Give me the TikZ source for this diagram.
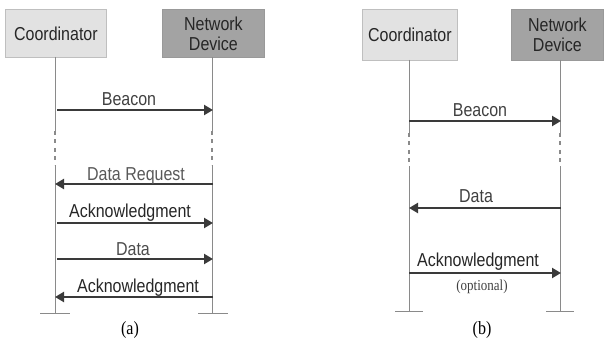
\documentclass[tikz,border=0pt]{standalone}
\usepackage{fontspec}
\usepackage{graphicx}
\setmainfont{Liberation Sans}
\newfontfamily\capfont{Liberation Serif}
\usetikzlibrary{arrows.meta}
\definecolor{lifegray}{HTML}{8A8A8A}
\definecolor{msggray}{HTML}{3A3A3A}
\definecolor{coordfill}{HTML}{E2E2E2}
\definecolor{devfill}{HTML}{A3A3A3}
% text in this figure is set slightly taller than the face's natural shape
\newcommand{\tall}[1]{\scalebox{1}[1.17]{#1}}
\tikzset{
  actor/.style={draw=#1, line width=0.8pt, inner sep=0pt, anchor=north west},
  lifeline/.style={draw=lifegray, line width=1pt},
  gapline/.style={lifeline, line width=1.1pt, dash pattern=on 4pt off 4.5pt},
  msg/.style={draw=msggray, line width=2.6pt, -{Triangle[length=9pt,width=10pt]}, shorten >=-1pt},
  msglabel/.style={font=\fontsize{16}{18}\selectfont, text=#1, inner sep=0pt, anchor=base},
  msglabel/.default=black!85,
  actortext/.style={font=\fontsize{16}{20}\selectfont, align=center, text=black!85},
  caption/.style={font=\capfont\fontsize{16}{18}\selectfont, inner sep=0pt, anchor=base}
}
\begin{document}
\begin{tikzpicture}[x=1pt, y=-1pt]
\useasboundingbox (0,0) rectangle (604,339);

% ---------- (a) polling / indirect transfer ----------
\node[actor=black!25, fill=coordfill, minimum width=101pt, minimum height=48pt] (aC) at (5,9) {};
\node[actortext] at (aC.center) {\tall{Coordinator}};
\node[actor=black!40, fill=devfill, minimum width=102pt, minimum height=48pt] (aD) at (162,9) {};
\node[actortext] at (aD.center) {\tall{Network}\\\tall{Device}};

\coordinate (aCb) at (55,57);  \coordinate (aDb) at (212,57);
\coordinate (aCg1) at (55,131); \coordinate (aDg1) at (212,131);
\coordinate (aCg2) at (55,165); \coordinate (aDg2) at (212,165);
\coordinate (aCe) at (55,313); \coordinate (aDe) at (212,313);
\draw[lifeline] (aCb) -- (aCg1) (aCg2) -- (aCe);
\draw[lifeline] (aDb) -- (aDg1) (aDg2) -- (aDe);
\draw[gapline] (aCg1) -- (aCg2);
\draw[gapline] (aDg1) -- (aDg2);
\draw[lifeline] (40,313) -- (70,313);
\draw[lifeline] (198,313) -- (228,313);

\coordinate (a1C) at (57,110);  \coordinate (a1D) at (212,110);
\coordinate (a2C) at (56,184);  \coordinate (a2D) at (213,184);
\coordinate (a3C) at (57,223);  \coordinate (a3D) at (212,223);
\coordinate (a4C) at (57,259);  \coordinate (a4D) at (212,259);
\coordinate (a5C) at (56,297);  \coordinate (a5D) at (213,297);
\draw[msg] (a1C) -- (a1D);
\draw[msg] (a2D) -- (a2C);
\draw[msg] (a3C) -- (a3D);
\draw[msg] (a4C) -- (a4D);
\draw[msg] (a5D) -- (a5C);
\node[msglabel=black!75] at (129,106) {\tall{Beacon}};
\node[msglabel=black!65] at (136,180) {\tall{Data Request}};
\node[msglabel] at (130,217) {\tall{Acknowledgment}};
\node[msglabel=black!70] at (133,255) {\tall{Data}};
\node[msglabel] at (138,292) {\tall{Acknowledgment}};
\node[caption] (capa) at (130,334) {\tall{(a)}};

% ---------- (b) direct transfer ----------
\node[actor=black!25, fill=coordfill, minimum width=95pt, minimum height=51pt] (bC) at (362,9) {};
\node[actortext] at (bC.center) {\tall{Coordinator}};
\node[actor=black!40, fill=devfill, minimum width=92pt, minimum height=51pt] (bD) at (511,9) {};
\node[actortext] at (bD.center) {\tall{Network}\\\tall{Device}};

\coordinate (bCb) at (409,60);  \coordinate (bDb) at (560,60);
\coordinate (bCg1) at (409,133); \coordinate (bDg1) at (560,133);
\coordinate (bCg2) at (409,166); \coordinate (bDg2) at (560,166);
\coordinate (bCe) at (409,311); \coordinate (bDe) at (560,311);
\draw[lifeline] (bCb) -- (bCg1) (bCg2) -- (bCe);
\draw[lifeline] (bDb) -- (bDg1) (bDg2) -- (bDe);
\draw[gapline] (bCg1) -- (bCg2);
\draw[gapline] (bDg1) -- (bDg2);
\draw[lifeline] (395,311) -- (423,311);
\draw[lifeline] (546,311) -- (574,311);

\coordinate (b1C) at (409,121); \coordinate (b1D) at (560,121);
\coordinate (b2C) at (410,208); \coordinate (b2D) at (561,208);
\coordinate (b3C) at (409,273); \coordinate (b3D) at (560,273);
\draw[msg] (b1C) -- (b1D);
\draw[msg] (b2D) -- (b2C);
\draw[msg] (b3C) -- (b3D);
\node[msglabel=black!75] at (480,117) {\tall{Beacon}};
\node[msglabel=black!75] at (476,202) {\tall{Data}};
\node[msglabel] at (478,266) {\tall{Acknowledgment}};
\node[caption, font=\capfont\fontsize{13}{15}\selectfont, text=black!75] at (482,290) {\tall{(optional)}};
\node[caption] (capb) at (482,334) {\tall{(b)}};
\end{tikzpicture}
\end{document}
